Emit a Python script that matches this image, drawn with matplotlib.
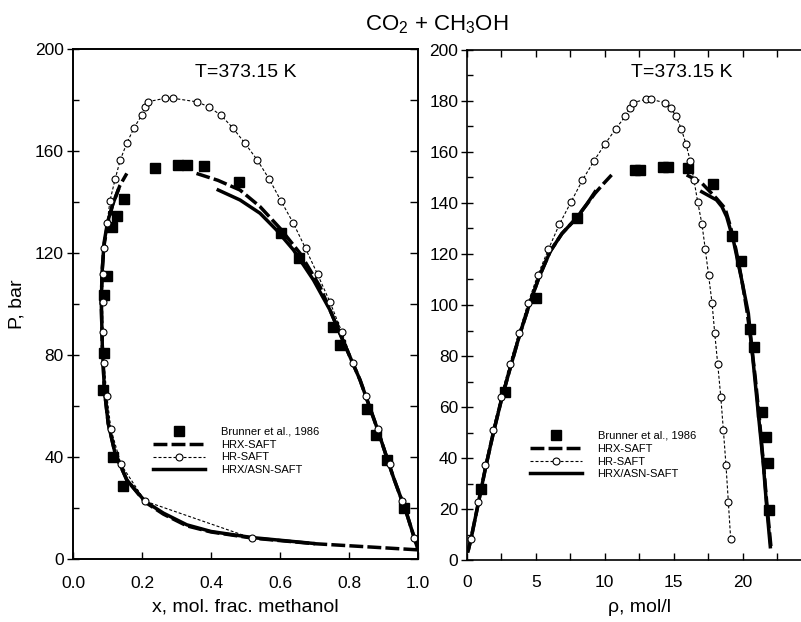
import matplotlib
matplotlib.use("Agg")
import matplotlib.pyplot as plt
from matplotlib.ticker import MultipleLocator

plt.rcParams['font.family'] = ['Liberation Sans', 'DejaVu Sans']
plt.rcParams['mathtext.fontset'] = 'custom'
plt.rcParams['mathtext.rm'] = 'Liberation Sans'
plt.rcParams['mathtext.it'] = 'Liberation Sans'

# ---- data: P-x panel ----
exp_x = [0.146, 0.117, 0.088, 0.090, 0.091, 0.098, 0.114, 0.128, 0.149, 0.238, 0.305, 0.330,
         0.380, 0.481, 0.602, 0.656, 0.753, 0.774, 0.853, 0.878, 0.909, 0.960]
exp_x_p = [28.5, 40.0, 66.4, 80.8, 103.5, 110.9, 130.0, 134.5, 141.0, 153.3, 154.5, 154.5,
           154.2, 147.7, 127.7, 117.9, 91.1, 83.9, 58.8, 48.6, 38.8, 20.1]

# HR-SAFT, vapour branch then liquid branch
hr_p = [8.1, 22.7, 37.1, 50.9, 64.1, 76.8, 89.1, 100.7, 111.6, 121.8, 131.6, 140.4, 148.9,
        156.5, 163.1, 169.1, 174.0, 177.4, 179.3, 180.7]
hr_x_vap = [0.520, 0.209, 0.139, 0.110, 0.098, 0.090, 0.086, 0.086, 0.086, 0.091, 0.099,
            0.107, 0.122, 0.137, 0.156, 0.177, 0.199, 0.209, 0.216, 0.268]
hr_x_liq = [0.989, 0.953, 0.919, 0.885, 0.849, 0.812, 0.779, 0.745, 0.709, 0.674, 0.639,
            0.603, 0.569, 0.534, 0.498, 0.463, 0.429, 0.393, 0.358, 0.289]

# HRX-SAFT (dashed)
hrx_x_vap = [0.998, 0.85, 0.70, 0.52, 0.40, 0.33, 0.262, 0.209, 0.156, 0.122, 0.102, 0.091,
             0.085, 0.082, 0.084, 0.090, 0.100, 0.115, 0.136, 0.156]
hrx_p_vap = [3.6, 4.8, 6.0, 8.2, 10.6, 13.0, 17.6, 22.3, 31.0, 41.4, 53.2, 66.3, 83.3, 100.0,
             112.0, 123.0, 131.0, 139.0, 146.5, 151.2]
hrx_x_liq = [0.358, 0.42, 0.484, 0.542, 0.60, 0.658, 0.716, 0.745, 0.784, 0.832, 0.88, 0.928,
             0.967, 0.998]
hrx_p_liq = [151.2, 148.5, 144.7, 138.2, 129.7, 119.9, 106.8, 97.6, 85.2, 70.2, 51.9, 32.3,
             17.9, 4.5]

# HRX/ASN-SAFT (solid)
asn_x_vap = [0.697, 0.52, 0.40, 0.33, 0.262, 0.209, 0.156, 0.122, 0.102, 0.091, 0.085, 0.082,
             0.084, 0.090, 0.100, 0.115, 0.131]
asn_p_vap = [6.1, 8.4, 10.8, 13.4, 18.0, 22.6, 31.0, 41.4, 53.2, 66.3, 83.3, 100.0, 112.0,
             124.0, 132.0, 139.0, 144.7]
asn_x_liq = [0.421, 0.484, 0.542, 0.59, 0.639, 0.697, 0.745, 0.784, 0.832, 0.88, 0.928, 0.967,
             0.998]
asn_p_liq = [144.7, 140.8, 135.6, 129.0, 121.2, 109.4, 97.6, 85.2, 70.2, 51.9, 32.3, 17.9, 4.5]

# ---- data: P-rho panel ----
exp_rho = [1.01, 2.78, 5.02, 7.97, 12.2, 12.57, 14.25, 14.6, 16.0, 17.83, 19.25, 19.9, 20.53,
           20.82, 21.38, 21.67, 21.81, 21.91]
exp_rho_p = [27.8, 65.8, 102.9, 134.2, 152.9, 152.9, 154.2, 154.2, 153.8, 147.5, 127.0, 117.4,
             90.5, 83.4, 58.2, 48.1, 37.9, 19.6]

hr_rho_vap = [0.29, 0.80, 1.33, 1.88, 2.49, 3.11, 3.79, 4.44, 5.14, 5.92, 6.71, 7.56, 8.38,
              9.22, 10.02, 10.80, 11.49, 11.83, 12.03, 12.99]
hr_rho_liq = [19.13, 18.96, 18.79, 18.60, 18.41, 18.19, 17.97, 17.78, 17.53, 17.29, 17.05,
              16.74, 16.47, 16.20, 15.89, 15.55, 15.17, 14.78, 14.37, 13.33]

hrx_rho_vap = [0.1, 0.3, 0.85, 1.38, 1.95, 2.55, 3.2, 3.85, 4.55, 5.25, 6.05, 6.9, 7.97, 8.7,
               9.3, 9.9, 10.5]
hrx_rp_vap = [3.5, 8.0, 22.5, 36.6, 50.3, 63.6, 76.2, 88.6, 100.3, 111.0, 121.0, 128.0, 134.2,
              139.5, 143.8, 147.5, 151.0]
hrx_rho_liq = [15.94, 17.0, 18.1, 18.72, 19.1, 19.5, 19.93, 20.3, 20.6, 20.9, 21.2, 21.5,
               21.75, 22.05]
hrx_rp_liq = [151.0, 148.0, 141.8, 137.9, 131.0, 122.0, 110.0, 98.0, 86.0, 72.0, 56.0, 38.0,
              22.0, 5.0]

asn_rho_vap = [0.1, 0.3, 0.85, 1.38, 1.95, 2.55, 3.2, 3.85, 4.55, 5.25, 6.05, 6.9, 7.97, 8.7,
               9.3]
asn_rp_vap = [3.5, 8.0, 22.5, 36.6, 50.3, 63.6, 76.2, 88.6, 100.3, 111.0, 121.0, 128.0, 134.2,
              139.5, 144.4]
asn_rho_liq = [17.03, 18.1, 18.5, 18.84, 19.32, 19.93, 20.41, 20.77, 21.13, 21.49, 21.75, 22.0]
asn_rp_liq = [144.4, 141.2, 138.5, 134.6, 125.5, 109.8, 96.7, 77.1, 57.5, 37.9, 20.0, 5.2]

rho_ticks = [0, 5, 10, 15, 20]

W, H = 801, 622
fig = plt.figure(figsize=(W / 100, H / 100), dpi=100)

ax1 = fig.add_axes([73 / W, (H - 559) / H, 345 / W, 510 / H])
ax2 = fig.add_axes([466.7 / W, (H - 560) / H, 345 / W, 510 / H])

exp_kw = dict(ls='none', marker='s', ms=6.5, color='black', zorder=4)
hr_kw = dict(color='black', lw=0.8, dashes=(2.7, 1.8), marker='o', ms=5, mfc='white',
             mec='black', mew=0.8, zorder=5)
hrx_kw = dict(color='black', lw=2.5, dashes=(4, 1.2), zorder=3)
asn_kw = dict(color='black', lw=2.5, ls='-', zorder=3)


def draw(ax, ex, ey, hrv, hrl, hrp, xv, pv, xl, pl, av, apv, al, apl):
    ax.plot(xv, pv, **hrx_kw)
    h_hrx, = ax.plot(xl, pl, label='HRX-SAFT', **hrx_kw)
    ax.plot(av, apv, **asn_kw)
    h_asn, = ax.plot(al, apl, label='HRX/ASN-SAFT', **asn_kw)
    h_exp, = ax.plot(ex, ey, label='Brunner et al., 1986', **exp_kw)
    h_hr, = ax.plot(list(hrv) + list(hrl[::-1]), list(hrp) + list(hrp[::-1]),
                    label='HR-SAFT', **hr_kw)
    return [h_exp, h_hrx, h_hr, h_asn]


handles1 = draw(ax1, exp_x, exp_x_p, hr_x_vap, hr_x_liq, hr_p,
                hrx_x_vap, hrx_p_vap, hrx_x_liq, hrx_p_liq,
                asn_x_vap, asn_p_vap, asn_x_liq, asn_p_liq)
handles2 = draw(ax2, exp_rho, exp_rho_p, hr_rho_vap, hr_rho_liq, hr_p,
                hrx_rho_vap, hrx_rp_vap, hrx_rho_liq, hrx_rp_liq,
                asn_rho_vap, asn_rp_vap, asn_rho_liq, asn_rp_liq)

# left panel axes
ax1.set_xlim(0, 1.0)
ax1.set_ylim(0, 200)
ax1.xaxis.set_major_locator(MultipleLocator(0.2))
ax1.yaxis.set_major_locator(MultipleLocator(40))
ax1.yaxis.set_minor_locator(MultipleLocator(20))
ax1.xaxis.set_major_formatter(plt.FormatStrFormatter('%.1f'))
ax1.tick_params(axis='x', direction='in', length=5, width=1, labelsize=12.5, pad=12)
ax1.tick_params(axis='y', which='major', direction='inout', length=9, width=1,
                labelsize=12.5, pad=2)
ax1.tick_params(axis='y', which='minor', direction='in', length=4, width=1)
ax1r = ax1.twinx()
ax1r.set_ylim(0, 200)
ax1r.yaxis.set_major_locator(MultipleLocator(20))
ax1r.tick_params(axis='y', direction='in', length=6, width=1, labelright=False)
ax1.set_xlabel('x, mol. frac. methanol', fontsize=14, labelpad=6)
ax1.set_ylabel('P, bar', fontsize=14)
ax1.yaxis.set_label_coords(-0.139, 0.5)
ax1.text(0.5, 0.953, 'T=373.15 K', transform=ax1.transAxes, fontsize=14,
         ha='center', va='center')

# right panel axes
ax2.set_xlim(0, 25)
ax2.set_ylim(0, 200)
ax2.set_xticks(rho_ticks)
ax2.xaxis.set_minor_locator(MultipleLocator(2.5))
ax2.yaxis.set_major_locator(MultipleLocator(20))
ax2.yaxis.set_minor_locator(MultipleLocator(10))
ax2.tick_params(axis='x', which='both', direction='in', length=5, width=1, top=True,
                labelsize=12.5, pad=11)
ax2.tick_params(axis='y', which='major', direction='inout', length=8, width=1,
                labelsize=12.5, pad=2)
ax2.tick_params(axis='y', which='minor', direction='in', length=4, width=1)
ax2.set_xlabel('ρ, mol/l', fontsize=14, labelpad=6)
ax2.text(15.58, 0.955, 'T=373.15 K', transform=ax2.get_xaxis_transform(), fontsize=14,
         ha='center', va='center')

for ax in (ax1, ax1r, ax2):
    for s in ax.spines.values():
        s.set_linewidth(1.2)

leg_kw = dict(loc='upper left', frameon=False, fontsize=8, numpoints=1, handlelength=4.7,
              handletextpad=1.4, labelspacing=0.25, borderpad=0, borderaxespad=0)
ax1.legend(handles=handles1, bbox_to_anchor=(0.232, 0.259), **leg_kw)
ax2.legend(handles=handles2, bbox_to_anchor=(0.183, 0.253), **leg_kw)

fig.text(437 / W, 1 - 25 / H, r'CO$_2$ + CH$_3$OH', fontsize=16, ha='center', va='center')

fig.savefig('out.png', dpi=100)
